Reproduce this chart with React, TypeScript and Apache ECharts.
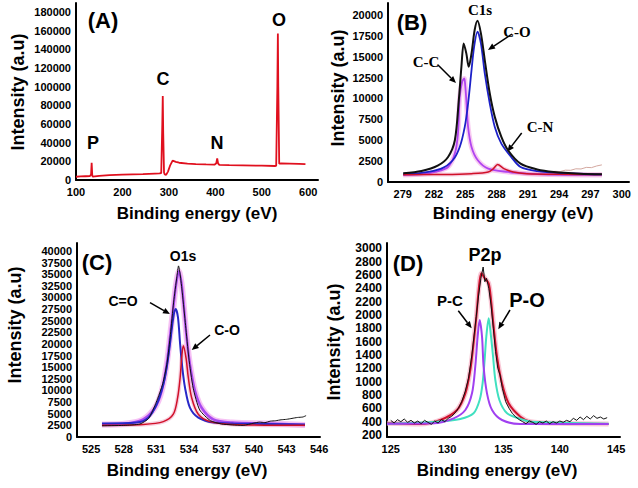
import React, { useEffect, useRef } from "react";
import * as echarts from "echarts";

// ---------- DATA ----------
// Panel A: survey spectrum [eV, intensity]
const surveyA: number[][] = [
  [100, 3500], [110, 3800], [120, 4000], [130, 4200], [132.5, 6000], [133.7, 18500], [135, 5000], [136, 3600],
  [150, 4500], [172, 5300], [200, 5800], [244, 6400], [270, 6900], [280, 7100], [283.5, 7500], [285.8, 60000],
  [286.8, 90000], [287.8, 50000], [289.5, 8000], [291, 6000], [294, 5500], [298, 9000], [303, 16000], [308, 20700],
  [315, 19400], [322, 18500], [340, 17600], [358, 17100], [380, 16700], [398, 16400], [402, 18000], [404, 23200],
  [406, 17500], [409, 16100], [430, 15900], [459, 15700], [500, 15300], [528, 15000], [531, 15200], [533.5, 100000],
  [534.6, 157000], [535.5, 100000], [537.5, 17500], [542, 17800], [560, 17600], [580, 17300], [594, 17100],
];

// Panel B: C1s
const bEnvelope: number[][] = [
  [279.05, 1050], [280.8, 1320], [282.4, 2000], [283.35, 3000], [284.0, 5000], [284.38, 9800], [284.63, 13800],
  [284.85, 16600], [285.1, 15400], [285.33, 13800], [285.6, 15400], [285.9, 18200], [286.17, 19300], [286.5, 17800],
  [286.87, 14600], [287.35, 10600], [287.83, 7800], [288.46, 5400], [289.1, 3800], [290.3, 2200], [291.9, 1500],
  [293.5, 1200], [296, 1000], [298.1, 920],
];
const bCC: number[][] = [
  [279.05, 850], [281, 950], [282.1, 1200], [283.35, 1800], [284.0, 3400], [284.3, 5800], [284.47, 10200],
  [284.7, 12000], [284.9, 12400], [285.0, 11500], [285.1, 9800], [285.27, 6600], [285.6, 4200], [286.2, 2600],
  [287.2, 1600], [289.1, 1200], [291, 1000], [293, 900], [296, 850], [298.1, 850],
];
const bCO: number[][] = [
  [279.05, 920], [280.8, 1080], [282.7, 1600], [283.8, 2600], [284.47, 4200], [284.95, 6600], [285.27, 9400],
  [285.6, 13400], [285.85, 16200], [286.17, 18000], [286.5, 16600], [286.87, 13000], [287.35, 9400], [287.83, 6600],
  [288.46, 4600], [289.4, 3000], [290.3, 1800], [291.9, 1300], [294.1, 1080], [298.1, 920],
];
const bCN: number[][] = [
  [279.05, 880], [283, 900], [285.6, 1000], [287.2, 1200], [287.7, 1600], [288.1, 2100], [288.7, 1600],
  [289.6, 1200], [290.9, 1000], [294, 920], [298.1, 900],
];
const bBackground: number[][] = [
  [293.1, 1200], [293.6, 1280], [294.1, 1250], [294.6, 1420], [295.1, 1400], [295.6, 1580], [296.1, 1560],
  [296.6, 1750], [297.1, 1720], [297.6, 1920], [298.1, 2050],
];

// Panel C: O1s
const cFit: number[][] = [
  [526.0, 2700], [528.28, 2900], [529.8, 3800], [530.88, 6300], [531.5, 9900], [531.96, 15600], [532.26, 21400],
  [532.57, 27800], [532.82, 32800], [533.09, 35700], [533.34, 32800], [533.55, 27800], [533.8, 21400],
  [534.1, 15600], [534.57, 9900], [535.18, 6300], [536.25, 3800], [538, 3100], [541.2, 2900], [544.7, 2600],
];
const cCdO: number[][] = [
  [526.0, 2900], [529.2, 3100], [530.27, 4150], [531.04, 7000], [531.65, 11300], [531.96, 14900], [532.26, 19900],
  [532.57, 25700], [532.79, 27500], [533.0, 25700], [533.2, 19900], [533.4, 14900], [533.65, 10600],
  [534.1, 6300], [534.87, 4150], [536.25, 3100], [538.1, 2900], [544.7, 2700],
];
const cCO: number[][] = [
  [526.0, 2500], [529.8, 2700], [531.65, 3300], [532.57, 4900], [532.97, 8450], [533.2, 12800], [533.34, 17000],
  [533.49, 19600], [533.74, 17000], [533.95, 12800], [534.26, 8450], [534.87, 4900], [535.95, 3300],
  [538, 2700], [544.7, 2500],
];
const cRaw: number[][] = [
  [526, 2400], [528, 2500], [529.5, 2800], [530.3, 4000], [531, 7500], [531.6, 11500], [532, 16000],
  [532.3, 22000], [532.6, 29000], [532.9, 34500], [533.05, 36800], [533.2, 35000], [533.4, 31000],
  [533.7, 24000], [534, 17000], [534.4, 10500], [535, 5800], [536, 3500], [537, 2800], [538, 2600],
  [539, 2500], [540, 3000], [540.5, 3200], [541, 3100], [541.5, 3400], [542, 3500], [542.5, 3700],
  [543, 3800], [543.5, 4000], [544, 4200], [544.5, 4300], [544.8, 4600],
];

// Panel D: P2p
const dEnvelope: number[][] = [
  [124.67, 375], [127.6, 365], [129.4, 425], [130.88, 575], [131.62, 825], [132.06, 1175], [132.35, 1575],
  [132.6, 1975], [132.8, 2375], [133.04, 2625], [133.35, 2550], [133.69, 2475], [133.9, 2225], [134.13, 1825],
  [134.43, 1375], [134.87, 975], [135.46, 675], [136.5, 475], [137.4, 400], [140, 375], [144.33, 365],
];
const dPC: number[][] = [
  [124.67, 370], [128.8, 375], [130.58, 450], [131.62, 575], [132.21, 825], [132.5, 1225], [132.71, 1675],
  [132.89, 1925], [133.1, 1675], [133.24, 1225], [133.54, 825], [133.99, 575], [134.87, 425], [136.5, 365],
  [144.33, 365],
];
const dPO: number[][] = [
  [124.67, 370], [129.1, 400], [131.17, 440], [132.35, 525], [132.89, 725], [133.15, 975], [133.33, 1325],
  [133.48, 1675], [133.69, 1950], [133.9, 1675], [134.08, 1375], [134.28, 1025], [134.64, 725], [135.32, 525],
  [136.5, 440], [137.4, 400], [144.33, 370],
];
const dRaw: number[][] = [
  [125.0, 420], [125.3, 380], [125.6, 430], [125.9, 400], [126.2, 440], [126.5, 390], [126.8, 420], [127.1, 380],
  [127.4, 410], [127.7, 370], [128.0, 420], [128.3, 390], [128.6, 360], [128.9, 410], [129.2, 380], [129.5, 430],
  [129.8, 400], [130.1, 450], [130.4, 480], [130.7, 530], [131.0, 600], [131.3, 700], [131.6, 850], [131.9, 1050],
  [132.2, 1400], [132.5, 1850], [132.8, 2300], [133.0, 2550], [133.2, 2720], [133.35, 2500], [133.5, 2550],
  [133.7, 2400], [133.9, 2150], [134.1, 1800], [134.3, 1450], [134.5, 1200], [134.7, 1100], [134.9, 900],
  [135.2, 700], [135.5, 600], [135.8, 520], [136.1, 470], [136.4, 430], [136.7, 400], [137.0, 370], [137.3, 410],
  [137.6, 390], [137.9, 360], [138.2, 400], [138.5, 380], [138.8, 410], [139.1, 370], [139.4, 400], [139.7, 380],
  [140.0, 410], [140.3, 390], [140.6, 420], [140.9, 400], [141.2, 450], [141.5, 420], [141.8, 470], [142.1, 430],
  [142.4, 480], [142.7, 440], [143.0, 490], [143.3, 450], [143.6, 470], [143.9, 440], [144.2, 460],
];

// Tick labels
const xTicksA = [100, 200, 300, 400, 500, 600];
const yTicksA = [0, 20000, 40000, 60000, 80000, 100000, 120000, 140000, 160000, 180000];
const xTicksB = [279, 282, 285, 288, 291, 294, 297, 300];
const yTicksB = [0, 2500, 5000, 7500, 10000, 12500, 15000, 17500, 20000];
const xTicksC = [525, 528, 531, 534, 537, 540, 543, 546];
const yTicksC = [0, 2500, 5000, 7500, 10000, 12500, 15000, 17500, 20000, 22500, 25000, 27500, 30000, 32500, 35000, 37500, 40000];
const xTicksD = [125, 130, 135, 140, 145];
const yTicksD = [200, 400, 600, 800, 1000, 1200, 1400, 1600, 1800, 2000, 2200, 2400, 2600, 2800, 3000];

const SANS = '"Liberation Sans", Arial, sans-serif';
const SERIF = '"Liberation Serif", "Times New Roman", serif';

function xAx(gridIndex: number, min: number, max: number, ticks: number[]) {
  return {
    type: "value", gridIndex, min, max,
    axisLine: { show: true, onZero: false, lineStyle: { color: "#000", width: 2 } },
    axisTick: { show: false },
    splitLine: { show: false },
    axisLabel: {
      customValues: ticks, color: "#000", fontWeight: "bold", fontSize: 11, fontFamily: SANS, margin: 6,
      formatter: (v: number) => String(v),
    },
  };
}
function yAx(gridIndex: number, min: number, max: number, ticks: number[], fs = 11) {
  return {
    type: "value", gridIndex, min, max,
    axisLine: { show: true, onZero: false, lineStyle: { color: "#000", width: 2 } },
    axisTick: { show: false },
    splitLine: { show: false },
    axisLabel: {
      customValues: ticks, color: "#000", fontWeight: "bold", fontSize: fs, fontFamily: SANS, margin: 5,
      formatter: (v: number) => String(v),
    },
  };
}
function line(idx: number, data: number[][], color: string, width: number, smooth: number | boolean, opacity = 1, z = 2) {
  return {
    type: "line", xAxisIndex: idx, yAxisIndex: idx, data, showSymbol: false, symbol: "none", smooth,
    lineStyle: { color, width, opacity }, silent: true, z, emphasis: { disabled: true },
  };
}
function txt(text: string, x: number, y: number, size: number, family = SANS, rot = 0) {
  return {
    type: "text", x, y, rotation: rot, silent: true,
    style: {
      text, fill: "#000", font: `bold ${size}px ${family}`,
      textAlign: "center", textVerticalAlign: "middle", align: "center", verticalAlign: "middle",
    },
  };
}
function arrow(x1: number, y1: number, x2: number, y2: number) {
  const a = Math.atan2(y2 - y1, x2 - x1);
  const L = 7, W = 3;
  const bx = x2 - L * Math.cos(a), by = y2 - L * Math.sin(a);
  const px = -Math.sin(a) * W, py = Math.cos(a) * W;
  return [
    { type: "line", silent: true, shape: { x1, y1, x2: bx, y2: by }, style: { stroke: "#000", lineWidth: 1.5 } },
    { type: "polygon", silent: true, shape: { points: [[x2, y2], [bx + px, by + py], [bx - px, by - py]] }, style: { fill: "#000" } },
  ];
}

export default function App() {
  const ref = useRef<HTMLDivElement>(null);
  useEffect(() => {
    if (!ref.current) return;
    const chart = echarts.init(ref.current, null, { renderer: "svg" });
    const option: any = {
      animation: false,
      backgroundColor: "#fff",
      grid: [
        { left: 76, top: 3, width: 242, height: 177 },
        { left: 388, top: 3, width: 241, height: 179 },
        { left: 77, top: 243, width: 243, height: 194 },
        { left: 387, top: 243, width: 233, height: 194 },
      ],
      xAxis: [
        xAx(0, 100, 621, xTicksA),
        xAx(1, 277.59, 300.7, xTicksB),
        xAx(2, 523.7, 546.08, xTicksC),
        xAx(3, 124.67, 145.34, xTicksD),
      ],
      yAxis: [
        yAx(0, 0, 189643, yTicksA),
        yAx(1, 0, 21437, yTicksB),
        yAx(2, 0, 41720, yTicksC),
        yAx(3, 170, 3080, yTicksD, 12),
      ],
      series: [
        line(0, surveyA, "#e0101e", 1.8, false),

        line(1, bBackground, "#d4a8a0", 1, false),
        line(1, bCC, "#f4a8e8", 5, 0.3, 0.6, 1),
        line(1, bCC, "#b044f0", 1.8, 0.3),
        line(1, bCO, "#1c20c8", 1.8, 0.3),
        line(1, bCN, "#f0a0c0", 4, 0.3, 0.5, 1),
        line(1, bCN, "#d01028", 1.5, 0.3),
        line(1, bEnvelope, "#111", 2, 0.3, 1, 3),

        line(2, cFit, "#f2a8f0", 6, 0.3, 0.7, 1),
        line(2, cFit, "#a848f0", 2.5, 0.3),
        line(2, cCdO, "#2828c8", 2, 0.3),
        line(2, cCO, "#f0a0c0", 4, 0.3, 0.5, 1),
        line(2, cCO, "#d01028", 1.5, 0.3),
        line(2, cRaw, "#111", 1, 0.2, 1, 3),

        line(3, dEnvelope, "#f6b0c4", 5, 0.3, 0.7, 1),
        line(3, dEnvelope, "#d0102c", 2, 0.3),
        line(3, dPO, "#40e0c0", 2, 0.3),
        line(3, dPC, "#a040f0", 2, 0.3),
        line(3, dRaw, "#111", 1, false, 1, 3),
      ],
      graphic: [
        txt("(A)", 103, 20, 22),
        txt("P", 93, 143, 18),
        txt("C", 163, 79, 18),
        txt("N", 217, 143, 18),
        txt("O", 279, 20, 18),
        txt("Intensity (a.u)", 18, 92, 18, SANS, Math.PI / 2),
        txt("Binding energy (eV)", 197, 213, 17),

        txt("(B)", 412, 22, 22),
        txt("C1s", 480, 10, 15, SERIF),
        txt("C-O", 517, 32, 15, SERIF),
        txt("C-C", 426, 62, 15, SERIF),
        txt("C-N", 540, 127, 15, SERIF),
        txt("Intensity (a.u)", 338, 88, 18, SANS, Math.PI / 2),
        txt("Binding energy (eV)", 513, 213, 17),
        ...arrow(512, 34, 488, 50),
        ...arrow(438, 65, 456, 83),
        ...arrow(521.7, 133, 507.3, 151.7),

        txt("(C)", 97, 262, 22),
        txt("O1s", 183, 256, 14),
        txt("C=O", 123, 301, 14),
        txt("C-O", 227, 330, 14),
        txt("Intensity (a.u)", 15, 325, 18, SANS, Math.PI / 2),
        txt("Binding energy (eV)", 187, 470, 17),
        ...arrow(150, 302.7, 170, 314),
        ...arrow(210, 335, 191.7, 350),

        txt("(D)", 408, 263, 22),
        txt("P2p", 485, 255, 18),
        txt("P-C", 450, 300, 15),
        txt("P-O", 527, 300, 20),
        txt("Intensity (a.u)", 334, 342, 18, SANS, Math.PI / 2),
        txt("Binding energy (eV)", 497, 470, 17),
        ...arrow(458.3, 310.7, 471.7, 328.3),
        ...arrow(510, 310, 498.3, 329.3),
      ],
    };
    chart.setOption(option);
    return () => chart.dispose();
  }, []);
  return (
    <div
      ref={ref}
      style={{ position: "fixed", left: 0, top: 0, width: 638, height: 488, background: "#fff" }}
    />
  );
}
